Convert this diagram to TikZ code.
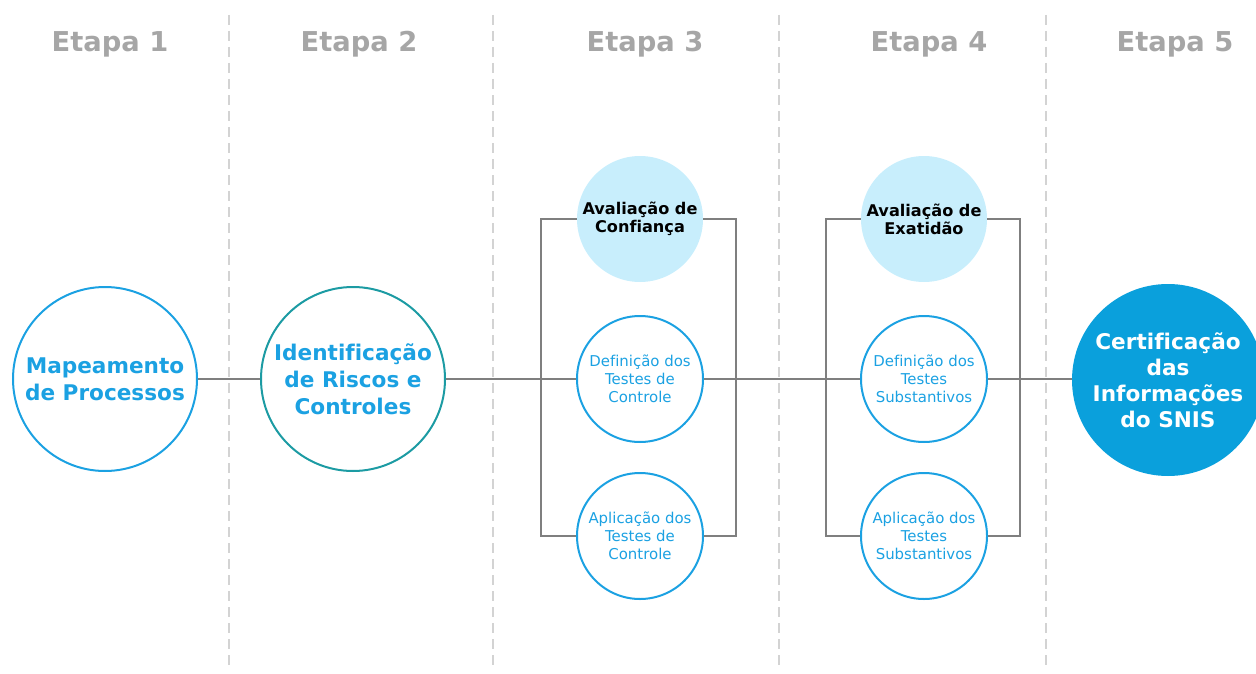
\documentclass[tikz,border=0pt]{standalone}
\usepackage{fontspec}
\setmainfont[Ligatures=NoCommon]{DejaVu Sans}
\begin{document}
\begin{tikzpicture}[x=0.75pt,y=-0.75pt]
\definecolor{hdr}{HTML}{A6A6A6}
\definecolor{sep}{HTML}{D3D3D3}
\definecolor{blu}{HTML}{1BA1E2}
\definecolor{teal}{HTML}{1C9BA3}
\definecolor{lite}{HTML}{C8EEFC}
\definecolor{deep}{HTML}{0AA0DC}
\definecolor{conn}{HTML}{7F7F7F}
\tikzset{
  hdrtext/.style={text=hdr,font=\fontsize{20.5}{24}\selectfont\bfseries},
  sepline/.style={draw=sep,line width=1.3pt,dash pattern=on 7.5pt off 4.5pt},
  bigc/.style={circle,draw=blu,line width=1.5pt,minimum size=138pt,inner sep=0pt,align=center,text=blu,font=\fontsize{16.2}{20.3}\selectfont\bfseries},
  smallc/.style={circle,draw=blu,line width=1.5pt,minimum size=94.5pt,inner sep=0pt,align=center,text=blu,font=\fontsize{11.2}{13.5}\selectfont},
  topc/.style={circle,fill=lite,minimum size=94.5pt,inner sep=0pt,align=center,text=black,font=\fontsize{12.1}{13.5}\selectfont\bfseries},
  finalc/.style={circle,fill=deep,minimum size=144pt,inner sep=0pt,align=center,text=white,font=\fontsize{16.2}{19.5}\selectfont\bfseries},
  link/.style={draw=conn,line width=1.6pt}
}
\useasboundingbox (0,0) rectangle (1256,674);
% separators
\foreach \x/\n in {229/s1,493/s2,779/s3,1046/s4}{
  \coordinate (\n t) at (\x,15);
  \coordinate (\n b) at (\x,670);
  \draw[sepline] (\n t) -- (\n b);
}
% headers
\node[hdrtext] (h1) at (110,44) {Etapa 1};
\node[hdrtext] (h2) at (359,44) {Etapa 2};
\node[hdrtext] (h3) at (645,44) {Etapa 3};
\node[hdrtext] (h4) at (929,44) {Etapa 4};
\node[hdrtext] (h5) at (1175,44) {Etapa 5};
% nodes
\node[bigc] (c1) at (105,379) {Mapeamento\\de Processos};
\node[bigc,draw=teal] (c2) at (353,379) {Identificação\\de Riscos e\\Controles};
\node[topc] (a3) at (640,219) {Avaliação de\\Confiança};
\node[smallc] (d3) at (640,379) {Definição dos\\Testes de\\Controle};
\node[smallc] (p3) at (640,536) {Aplicação dos\\Testes de\\Controle};
\node[topc] (a4) at (924,219) {Avaliação de\\Exatidão};
\node[smallc] (d4) at (924,379) {Definição dos\\Testes\\Substantivos};
\node[smallc] (p4) at (924,536) {Aplicação dos\\Testes\\Substantivos};
\node[finalc] (c5) at (1168,380) {Certificação\\das\\Informações\\do SNIS};
% bracket coordinates
\coordinate (b3l) at (541,379);
\coordinate (b3r) at (736,379);
\coordinate (b4l) at (826,379);
\coordinate (b4r) at (1020,379);
% connectors
\draw[link] (c1) -- (c2);
\draw[link] (c2) -- (d3);
\draw[link] (d3) -- (d4);
\draw[link] (d4.east) -- (c5.west |- d4.east);
\draw[link] (a3) -| (b3l) |- (p3);
\draw[link] (a3) -| (b3r) |- (p3);
\draw[link] (a4) -| (b4l) |- (p4);
\draw[link] (a4) -| (b4r) |- (p4);
\end{tikzpicture}
\end{document}
